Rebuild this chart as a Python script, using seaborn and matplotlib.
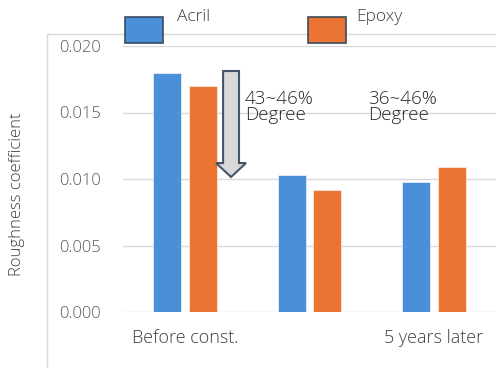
import matplotlib
matplotlib.use("Agg")
import matplotlib.pyplot as plt
from matplotlib.patches import FancyArrow, Rectangle
from matplotlib.lines import Line2D
import seaborn as sns
import pandas as pd

# Roughness coefficient of the two coatings at each stage
stages = ["Before const.", " ", "5 years later"]
materials = ["Acril", "Epoxy"]
acril = [0.0180, 0.0103, 0.0098]
epoxy = [0.0170, 0.0092, 0.0109]
y_ticks = [0.000, 0.005, 0.010, 0.015, 0.020]
notes = ["43~46%\nDegree", "36~46%\nDegree"]

colors = ["#4A90D9", "#EB7432"]

df = pd.DataFrame({
    "stage": stages * 2,
    "material": [materials[0]] * 3 + [materials[1]] * 3,
    "value": acril + epoxy,
})

sns.set_theme(style="white")
plt.rcParams["font.family"] = ["Open Sans", "DejaVu Sans"]

fig = plt.figure(figsize=(4.96, 3.68), dpi=100)
W, H = 496, 368
ax = fig.add_axes([123 / W, 1 - 312 / H, 1 - 123 / W, (312 - 46) / H])

sns.barplot(data=df, x="stage", y="value", hue="material", order=stages,
            hue_order=materials, palette=colors, width=0.57, gap=0.21,
            saturation=1, edgecolor="white", linewidth=0.4,
            legend=False, errorbar=None, ax=ax, zorder=3)

ax.set_xlim(-0.5, 2.5)
ax.set_ylim(0, 0.020)
ax.set_yticks(y_ticks)
ax.set_yticklabels([f"{v:.3f}" for v in y_ticks])
ax.grid(axis="y", color="#d9d9d9", linewidth=1, zorder=0)
ax.grid(axis="x", visible=False)
for s in ax.spines.values():
    s.set_visible(False)
ax.tick_params(axis="y", length=0, pad=16, labelsize=12, labelcolor="#595959")
ax.tick_params(axis="x", length=0, pad=12, labelsize=13, labelcolor="#404040")
for lbl in ax.get_xticklabels() + ax.get_yticklabels():
    lbl.set_fontweight("light")
ax.set_xlabel("")
ax.set_ylabel("")

# Downward arrow showing the reduction after construction
ax.add_patch(FancyArrow(0.369, 0.01812, 0, -(0.01812 - 0.01015), width=0.128,
                        head_width=0.241, head_length=0.00105,
                        length_includes_head=True, facecolor="#D9D9D9",
                        edgecolor="#44546A", linewidth=1.5, zorder=5))

for xpos, note in zip([0.48, 1.47], notes):
    ax.text(xpos, 0.0167, note, fontsize=13.5, fontweight="light",
            color="#262626", va="top", ha="left", linespacing=0.85, zorder=6)

fig.text(17 / W, 1 - 194 / H, "Roughness coefficient", rotation=90,
         ha="center", va="center", fontsize=12, fontweight="light",
         color="#404040")

# Chart frame
fig.add_artist(Line2D([47 / W, 47 / W], [0, 1 - 34 / H], color="#d9d9d9", lw=1))
fig.add_artist(Line2D([47 / W, 1], [1 - 34 / H, 1 - 34 / H], color="#d9d9d9", lw=1))

# Legend
for x0, col, label, tx in [(125, colors[0], materials[0], 177),
                           (308, colors[1], materials[1], 356)]:
    fig.add_artist(Rectangle((x0 / W, 1 - 43 / H), 38 / W, 26 / H,
                             transform=fig.transFigure, facecolor=col,
                             edgecolor="#3A4A5C", linewidth=1.2, zorder=10))
    fig.text(tx / W, 1 - 17 / H, label, ha="left", va="center",
             fontsize=12.5, fontweight="light", color="#404040")

fig.savefig("out.png", dpi=100)
